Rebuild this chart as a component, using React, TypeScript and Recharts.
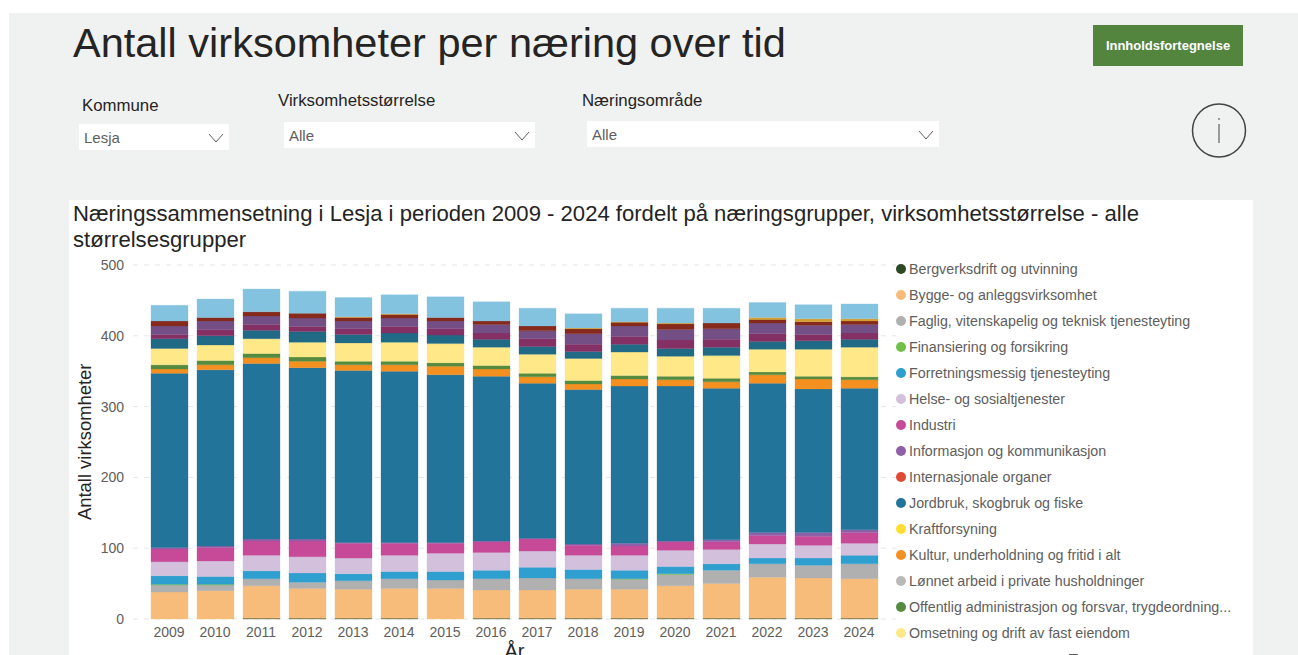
import React from "react";
import { Bar, BarChart, CartesianGrid, Legend, XAxis, YAxis } from "recharts";

const years = ["2009", "2010", "2011", "2012", "2013", "2014", "2015", "2016", "2017", "2018", "2019", "2020", "2021", "2022", "2023", "2024"];

const bergverk = [0, 0, 1, 1, 1, 1, 0, 1, 1, 1, 1, 1, 1, 1, 1, 1];
const bygge = [38, 40, 46, 42, 41, 42, 43, 40, 40, 41, 41, 46, 49, 58, 57, 56];
const faglig = [10, 8, 10, 9, 12, 14, 12, 16, 17, 15, 14, 16, 19, 19, 18, 21];
const finansiering = [1, 1, 0, 0, 0, 0, 0, 0, 0, 0, 1, 1, 0, 0, 0, 0];
const forretning = [12, 11, 11, 13, 10, 10, 12, 12, 15, 13, 12, 10, 9, 8, 10, 12];
const helse = [20, 22, 22, 23, 22, 23, 26, 25, 23, 20, 21, 23, 20, 20, 18, 17];
const industri = [18, 19, 20, 22, 21, 17, 14, 15, 17, 14, 13, 12, 11, 12, 13, 15];
const informasjon = [2, 2, 3, 3, 1, 1, 1, 1, 1, 2, 4, 1, 3, 4, 5, 4];
const internasjonale = [0, 0, 0, 0, 0, 0, 0, 0, 0, 0, 0, 0, 0, 0, 0, 0];
const jordbruk = [246, 249, 248, 242, 243, 242, 237, 233, 219, 218, 222, 219, 214, 211, 203, 200];
const kraft = [0, 0, 0, 0, 0, 0, 0, 0, 0, 0, 0, 0, 0, 0, 0, 0];
const kultur = [6, 7, 8, 9, 8, 9, 12, 10, 9, 8, 10, 9, 9, 12, 14, 12];
const lonnet = [0, 0, 0, 0, 0, 0, 0, 0, 0, 0, 0, 0, 0, 0, 0, 0];
const offentlig = [6, 6, 6, 6, 5, 5, 5, 5, 5, 5, 5, 5, 5, 4, 4, 4];
const omsetning = [23, 22, 21, 21, 26, 27, 27, 26, 27, 31, 33, 28, 32, 32, 38, 42];
// the legend is scrolled, these six groups have no visible entry
const overnatting = [14, 13, 12, 15, 12, 13, 12, 11, 11, 10, 11, 11, 12, 11, 12, 11];
const transport = [6, 9, 8, 7, 8, 9, 9, 9, 11, 10, 11, 12, 11, 11, 9, 9];
const undervisning = [12, 12, 12, 12, 11, 12, 11, 12, 11, 15, 15, 15, 15, 15, 13, 12];
const uoppgitt = [7, 5, 6, 7, 5, 5, 5, 5, 7, 7, 5, 8, 8, 5, 5, 5];
const vann = [0, 0, 0, 0, 1, 1, 0, 0, 0, 1, 1, 1, 0, 3, 4, 3];
const varehandel = [22, 26, 32, 31, 27, 27, 29, 27, 25, 20, 19, 21, 21, 21, 20, 21];

const series = [
  { key: "bergverk", label: "Bergverksdrift og utvinning", color: "#2B4A24", values: bergverk },
  { key: "bygge", label: "Bygge- og anleggsvirksomhet", color: "#F8BC7A", values: bygge },
  { key: "faglig", label: "Faglig, vitenskapelig og teknisk tjenesteyting", color: "#B0B0B0", values: faglig },
  { key: "finansiering", label: "Finansiering og forsikring", color: "#72C048", values: finansiering },
  { key: "forretning", label: "Forretningsmessig tjenesteyting", color: "#2E9FCF", values: forretning },
  { key: "helse", label: "Helse- og sosialtjenester", color: "#D2C0DC", values: helse },
  { key: "industri", label: "Industri", color: "#C64A98", values: industri },
  { key: "informasjon", label: "Informasjon og kommunikasjon", color: "#8F5FA8", values: informasjon },
  { key: "internasjonale", label: "Internasjonale organer", color: "#E04A35", values: internasjonale },
  { key: "jordbruk", label: "Jordbruk, skogbruk og fiske", color: "#23749A", values: jordbruk },
  { key: "kraft", label: "Kraftforsyning", color: "#FFDD33", values: kraft },
  { key: "kultur", label: "Kultur, underholdning og fritid i alt", color: "#F39020", values: kultur },
  { key: "lonnet", label: "Lønnet arbeid i private husholdninger", color: "#BABABA", values: lonnet },
  { key: "offentlig", label: "Offentlig administrasjon og forsvar, trygdeordning...", color: "#558B3E", values: offentlig },
  { key: "omsetning", label: "Omsetning og drift av fast eiendom", color: "#FFE888", values: omsetning },
  { key: "overnatting", label: "Overnattings- og serveringsvirksomhet", color: "#216A85", values: overnatting },
  { key: "transport", label: "Transport og lagring", color: "#853065", values: transport },
  { key: "undervisning", label: "Undervisning", color: "#734F85", values: undervisning },
  { key: "uoppgitt", label: "Uoppgitt", color: "#852A1C", values: uoppgitt },
  { key: "vann", label: "Vann, avløp og renovasjon", color: "#D4A030", values: vann },
  { key: "varehandel", label: "Varehandel", color: "#84C3E0", values: varehandel },
];

const data = years.map((year, i) => {
  const row: Record<string, string | number> = { year };
  series.forEach((s) => {
    row[s.key] = s.values[i];
  });
  return row;
});

const FONT = "'Liberation Sans', Arial, sans-serif";
const VISIBLE_LEGEND = 15;

function LegendList() {
  return (
    <div>
      {series.slice(0, VISIBLE_LEGEND).map((s) => (
        <div key={s.key} style={{ height: 26, display: "flex", alignItems: "center", whiteSpace: "nowrap" }}>
          <span style={{ width: 10, height: 10, borderRadius: 5, background: s.color, marginRight: 3 }} />
          <span style={{ fontSize: 14.25, color: "#605E5C" }}>{s.label}</span>
        </div>
      ))}
    </div>
  );
}

function Dropdown({ label, value, labelX, labelY, x, y, width }: { label: string; value: string; labelX: number; labelY: number; x: number; y: number; width: number }) {
  return (
    <>
      <div style={{ position: "absolute", left: labelX, top: labelY, fontSize: 16.8, lineHeight: "18px", color: "#252423" }}>{label}</div>
      <div style={{ position: "absolute", left: x, top: y, width, height: 26, background: "#fff", fontSize: 15, lineHeight: "27px", color: "#605E5C", textIndent: 5 }}>
        {value}
        <svg style={{ position: "absolute", right: 5, top: 9 }} width="16" height="10">
          <path d="M1 1 L8 9 L15 1" fill="none" stroke="#605E5C" strokeWidth="1" />
        </svg>
      </div>
    </>
  );
}

export default function App() {
  return (
    <div style={{ position: "absolute", left: 0, top: 0, width: 1298, height: 655, overflow: "hidden", background: "#fff", fontFamily: FONT }}>
      <div style={{ position: "absolute", left: 9, top: 13, right: 0, bottom: 0, background: "#F0F1F1" }} />
      <div style={{ position: "absolute", left: 73, top: 19, fontSize: 41.5, lineHeight: "48px", color: "#252423", whiteSpace: "nowrap" }}>
        Antall virksomheter per næring over tid
      </div>
      <div style={{ position: "absolute", left: 1093, top: 25, width: 150, height: 41, background: "#54853F", color: "#fff", fontSize: 13, fontWeight: 700, lineHeight: "41px", textAlign: "center" }}>
        Innholdsfortegnelse
      </div>
      <Dropdown label="Kommune" value="Lesja" labelX={82} labelY={97} x={79} y={124} width={150} />
      <Dropdown label="Virksomhetsstørrelse" value="Alle" labelX={278} labelY={92} x={284} y={122} width={251} />
      <Dropdown label="Næringsområde" value="Alle" labelX={582} labelY={92} x={587} y={121} width={352} />
      <svg style={{ position: "absolute", left: 1190, top: 102 }} width="58" height="58">
        <circle cx="29" cy="28.5" r="26.5" fill="none" stroke="#444" strokeWidth="1.5" />
        <path d="M29 16 V18 M29 22 V41" stroke="#444" strokeWidth="1" />
      </svg>

      <div style={{ position: "absolute", left: 69, top: 200, width: 1184, height: 455, background: "#fff" }}>
        <div style={{ position: "absolute", left: 4, top: 1, width: 1150, fontSize: 22.1, lineHeight: "26px", color: "#252423" }}>
          Næringssammensetning i Lesja i perioden 2009 - 2024 fordelt på næringsgrupper, virksomhetsstørrelse - alle størrelsesgrupper
        </div>
        <BarChart
          width={1184}
          height={455}
          data={data}
          barSize={37}
          margin={{ top: 65, right: 7, bottom: 6, left: 24 }}
          style={{ fontFamily: FONT }}
        >
          <CartesianGrid stroke="#E6E6E6" strokeDasharray="5 6" vertical={false} />
          <XAxis
            dataKey="year"
            axisLine={false}
            tickLine={false}
            interval={0}
            height={30}
            padding={{ left: 13, right: 14 }}
            tick={{ fontSize: 14, fill: "#605E5C" }}
            label={{ value: "År", position: "insideBottom", offset: -9, fontSize: 20, fill: "#252423" }}
          />
          <YAxis
            width={40}
            domain={[0, 500]}
            ticks={[0, 100, 200, 300, 400, 500]}
            axisLine={false}
            tickLine={false}
            tickMargin={3}
            tick={{ fontSize: 14, fill: "#605E5C" }}
            label={{ value: "Antall virksomheter", angle: -90, position: "insideLeft", offset: -9, fontSize: 18.4, fill: "#252423", dy: 78 }}
          />
          <Legend
            content={<LegendList />}
            layout="vertical"
            align="right"
            verticalAlign="top"
            wrapperStyle={{ position: "absolute", left: 827, top: 56, width: 350, height: 399, margin: 0 }}
          />
          {series.map((s) => (
            <Bar
              key={s.key}
              dataKey={s.key}
              name={s.label}
              stackId="a"
              fill={s.color}
              stroke={s.color}
              strokeOpacity={0.3}
              isAnimationActive={false}
            />
          ))}
        </BarChart>
        <div style={{ position: "absolute", left: 1000, top: 454, width: 9, height: 1, background: "#605E5C" }} />
      </div>
    </div>
  );
}
